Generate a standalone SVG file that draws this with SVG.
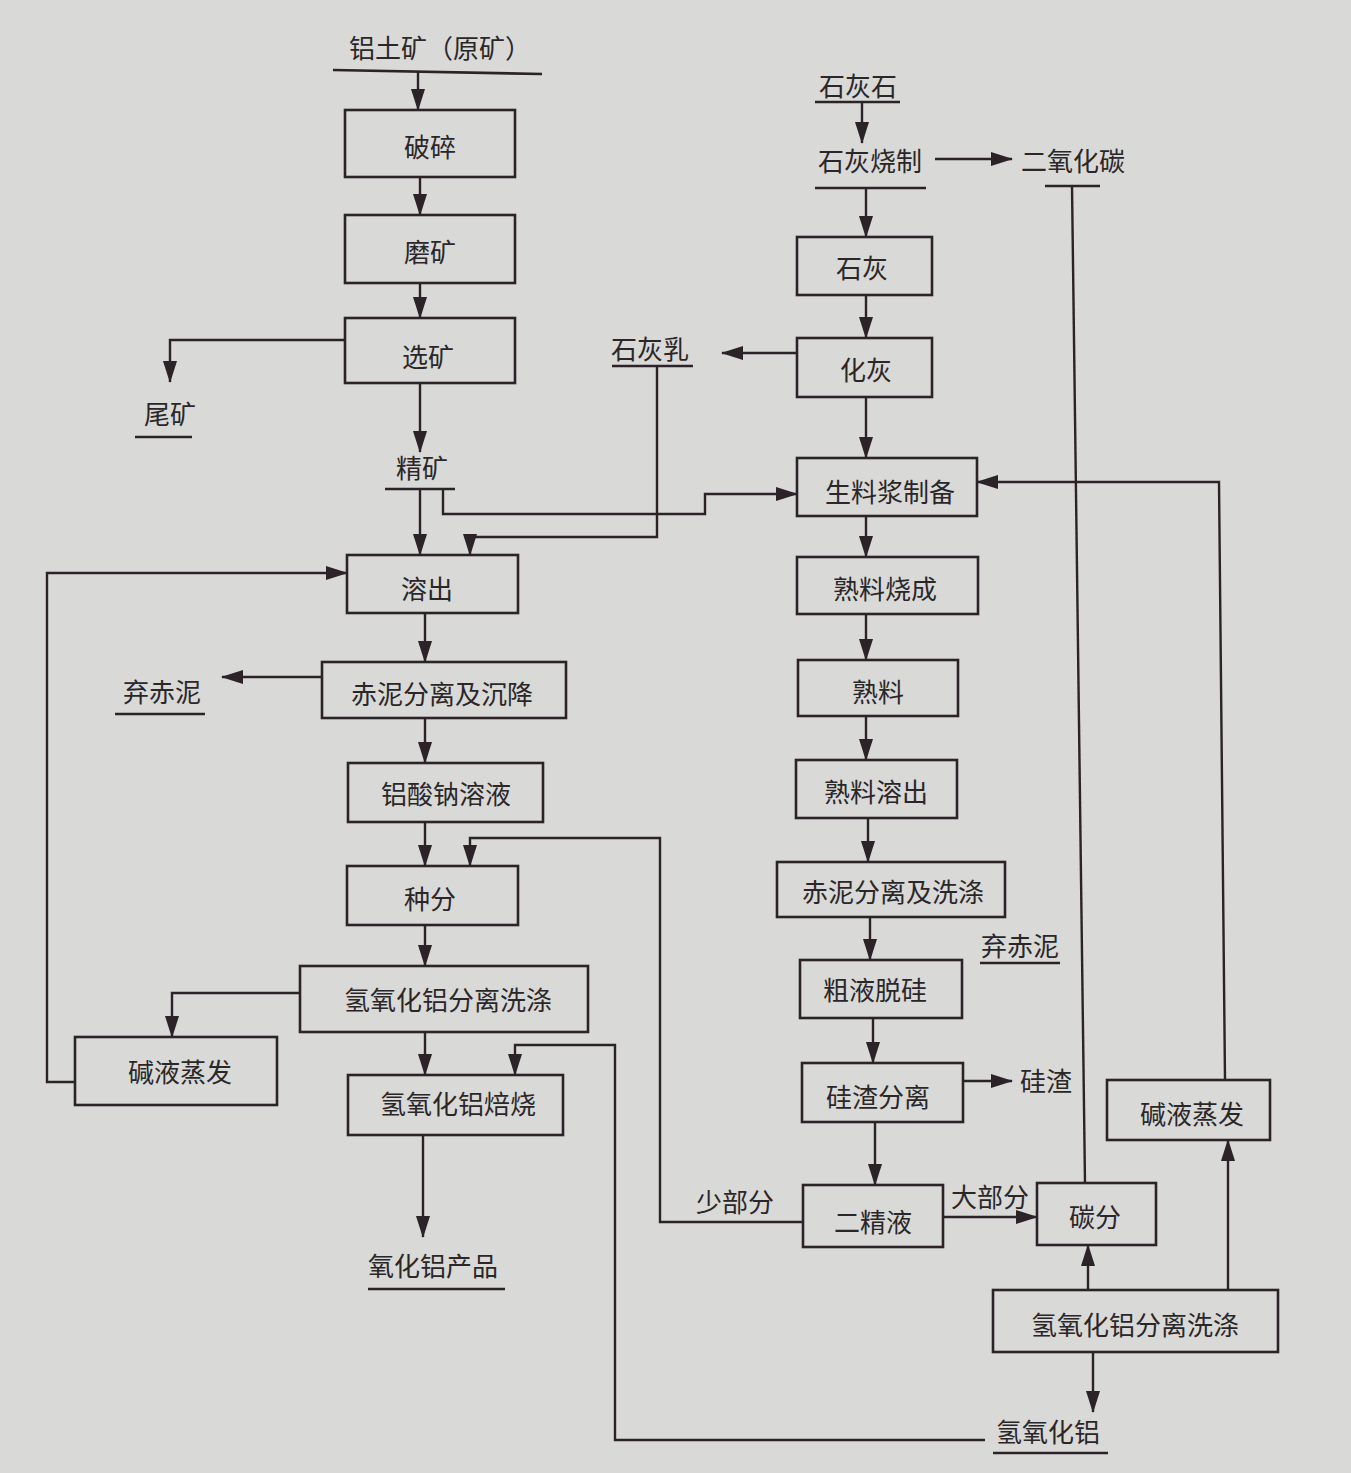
<svg xmlns="http://www.w3.org/2000/svg" width="1351" height="1473" viewBox="0 0 1351 1473">
<style>
.bx{fill:none;stroke:#2b2327;stroke-width:2.6}
.t{font-family:"Noto Sans CJK SC",sans-serif;font-size:26px;fill:#2b2729;text-anchor:middle;dominant-baseline:central}
.c{fill:none;stroke:#2b2327;stroke-width:2.4}
.ca{fill:none;stroke:#2b2327;stroke-width:2.4;marker-end:url(#ah)}
.ul{stroke:#2b2327;stroke-width:2.6}
</style>
<defs>
<marker id="ah" markerUnits="userSpaceOnUse" markerWidth="22" markerHeight="14" refX="21" refY="7" orient="auto">
<path d="M0,0 L22,7 L0,14 Z" fill="#2b2327"/>
</marker>
</defs>
<rect width="1351" height="1473" fill="#d9d9d7"/>

<g id="connectors">
<path class="ca" d="M418,72 V110"/>
<path class="ca" d="M420,177 V215"/>
<path class="ca" d="M420,283 V318"/>
<path class="ca" d="M345,340 H170 V382"/>
<path class="ca" d="M420,383 V452"/>
<path class="ca" d="M420,489 V555"/>
<path class="ca" d="M443,489 V514 H705 V494 H797"/>
<path class="ca" d="M657,366 V537 H470 V555"/>
<path class="ca" d="M75,1082 H47 V573 H347"/>
<path class="ca" d="M425,613 V662"/>
<path class="ca" d="M322,677 H222"/>
<path class="ca" d="M425,718 V763"/>
<path class="ca" d="M425,822 V866"/>
<path class="ca" d="M803,1222 H660 V838 H470 V866"/>
<path class="ca" d="M425,925 V966"/>
<path class="ca" d="M300,993 H172 V1037"/>
<path class="ca" d="M425,1032 V1075"/>
<path class="ca" d="M985,1440 H615 V1045 H515 V1075"/>
<path class="ca" d="M423,1135 V1237"/>
<path class="ca" d="M862,102 V143"/>
<path class="ca" d="M935,159 H1012"/>
<path class="c" d="M1072,186 L1085,1183"/>
<path class="ca" d="M866,188 V237"/>
<path class="ca" d="M866,295 V338"/>
<path class="ca" d="M797,353 H722"/>
<path class="ca" d="M866,397 V458"/>
<path class="ca" d="M1225,1080 L1219,482 H977"/>
<path class="ca" d="M866,516 V557"/>
<path class="ca" d="M866,614 V660"/>
<path class="ca" d="M866,716 V760"/>
<path class="ca" d="M868,818 V862"/>
<path class="ca" d="M870,917 V960"/>
<path class="ca" d="M873,1018 V1063"/>
<path class="ca" d="M963,1081 H1012"/>
<path class="ca" d="M875,1122 V1185"/>
<path class="ca" d="M943,1217 H1037"/>
<path class="ca" d="M1088,1290 V1245"/>
<path class="ca" d="M1228,1290 V1140"/>
<path class="ca" d="M1093,1352 V1412"/>
</g>

<g id="n-bauxite"><text class="t" x="440" y="46">铝土矿（原矿）</text><line class="ul" x1="333" y1="70" x2="542" y2="74"/></g>
<g id="n-crush"><rect class="bx" x="345" y="110" width="170" height="67"/><text class="t" x="430" y="145">破碎</text></g>
<g id="n-grind"><rect class="bx" x="345" y="215" width="170" height="68"/><text class="t" x="430" y="250">磨矿</text></g>
<g id="n-dress"><rect class="bx" x="345" y="318" width="170" height="65"/><text class="t" x="428" y="355">选矿</text></g>
<g id="n-tailing"><text class="t" x="170" y="412">尾矿</text><line class="ul" x1="135" y1="437" x2="192" y2="437"/></g>
<g id="n-conc"><text class="t" x="422" y="466">精矿</text><line class="ul" x1="385" y1="489" x2="455" y2="489"/></g>
<g id="n-limemilk"><text class="t" x="650" y="347">石灰乳</text><line class="ul" x1="612" y1="366" x2="693" y2="366"/></g>
<g id="n-leach"><rect class="bx" x="347" y="555" width="171" height="58"/><text class="t" x="427" y="587">溶出</text></g>
<g id="n-redmud1"><rect class="bx" x="322" y="662" width="244" height="56"/><text class="t" x="442" y="692">赤泥分离及沉降</text></g>
<g id="n-waste1"><text class="t" x="162" y="690">弃赤泥</text><line class="ul" x1="115" y1="714" x2="205" y2="714"/></g>
<g id="n-aluminate"><rect class="bx" x="348" y="763" width="195" height="59"/><text class="t" x="446" y="792">铝酸钠溶液</text></g>
<g id="n-seed"><rect class="bx" x="347" y="866" width="171" height="59"/><text class="t" x="430" y="897">种分</text></g>
<g id="n-sep1"><rect class="bx" x="300" y="966" width="288" height="66"/><text class="t" x="448" y="998">氢氧化铝分离洗涤</text></g>
<g id="n-evap1"><rect class="bx" x="75" y="1037" width="202" height="68"/><text class="t" x="180" y="1070">碱液蒸发</text></g>
<g id="n-calcine"><rect class="bx" x="348" y="1075" width="215" height="60"/><text class="t" x="458" y="1102">氢氧化铝焙烧</text></g>
<g id="n-product"><text class="t" x="433" y="1264">氧化铝产品</text><line class="ul" x1="368" y1="1289" x2="505" y2="1289"/></g>

<g id="n-limestone"><text class="t" x="858" y="84">石灰石</text><line class="ul" x1="815" y1="102" x2="900" y2="102"/></g>
<g id="n-limeburn"><text class="t" x="870" y="159">石灰烧制</text><line class="ul" x1="815" y1="188" x2="926" y2="188"/></g>
<g id="n-co2"><text class="t" x="1073" y="159">二氧化碳</text><line class="ul" x1="1045" y1="186" x2="1100" y2="186"/></g>
<g id="n-lime"><rect class="bx" x="797" y="237" width="135" height="58"/><text class="t" x="862" y="266">石灰</text></g>
<g id="n-slake"><rect class="bx" x="797" y="338" width="135" height="59"/><text class="t" x="866" y="368">化灰</text></g>
<g id="n-slurry"><rect class="bx" x="797" y="458" width="180" height="58"/><text class="t" x="890" y="490">生料浆制备</text></g>
<g id="n-sinter"><rect class="bx" x="797" y="557" width="181" height="57"/><text class="t" x="885" y="587">熟料烧成</text></g>
<g id="n-clinker"><rect class="bx" x="798" y="660" width="160" height="56"/><text class="t" x="878" y="690">熟料</text></g>
<g id="n-clinkerleach"><rect class="bx" x="796" y="760" width="161" height="58"/><text class="t" x="876" y="790">熟料溶出</text></g>
<g id="n-redmud2"><rect class="bx" x="777" y="862" width="228" height="55"/><text class="t" x="893" y="890">赤泥分离及洗涤</text></g>
<g id="n-waste2"><text class="t" x="1020" y="944">弃赤泥</text><line class="ul" x1="980" y1="963" x2="1060" y2="963"/></g>
<g id="n-desil"><rect class="bx" x="800" y="960" width="162" height="58"/><text class="t" x="875" y="988">粗液脱硅</text></g>
<g id="n-silsep"><rect class="bx" x="802" y="1063" width="161" height="59"/><text class="t" x="878" y="1095">硅渣分离</text></g>
<g id="n-silres"><text class="t" x="1046" y="1079">硅渣</text></g>
<g id="n-second"><rect class="bx" x="803" y="1185" width="140" height="62"/><text class="t" x="873" y="1220">二精液</text></g>
<g id="n-minor"><text class="t" x="735" y="1200">少部分</text></g>
<g id="n-major"><text class="t" x="990" y="1195">大部分</text></g>
<g id="n-carb"><rect class="bx" x="1037" y="1183" width="119" height="62"/><text class="t" x="1095" y="1215">碳分</text></g>
<g id="n-evap2"><rect class="bx" x="1107" y="1080" width="163" height="60"/><text class="t" x="1192" y="1112">碱液蒸发</text></g>
<g id="n-sep2"><rect class="bx" x="993" y="1290" width="285" height="62"/><text class="t" x="1135" y="1323">氢氧化铝分离洗涤</text></g>
<g id="n-hydroxide"><text class="t" x="1048" y="1430">氢氧化铝</text><line class="ul" x1="993" y1="1453" x2="1108" y2="1453"/></g>
</svg>
